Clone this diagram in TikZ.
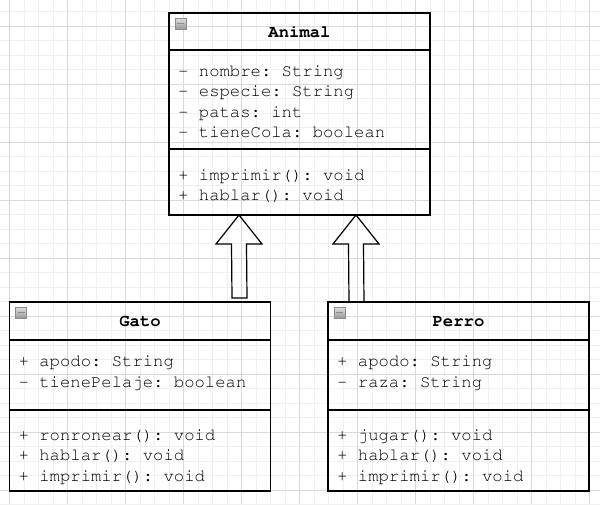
\documentclass[tikz,border=0pt]{standalone}
\usetikzlibrary{positioning,calc}

\newcommand{\umlfont}{\fontencoding{T1}\fontfamily{pcr}\fontsize{17.25pt}{20.5pt}\selectfont\frenchspacing}
\newcommand{\inheritarrow}[2]{%
  \draw[inherit] ($(#1)+(-7.5,0)$) -- ($(#2)+(-7.5,29)$) -- ($(#2)+(-23,29)$)
    -- (#2) -- ($(#2)+(23,29)$) -- ($(#2)+(7.5,29)$) -- ($(#1)+(7.5,0)$) -- cycle;}

\begin{document}
\begin{tikzpicture}[
    x=1pt, y=-1pt,
    node distance=0pt and 57.5pt,
    classhead/.style={draw,line width=1.2pt,outer sep=0pt,inner sep=0pt,minimum width=261pt,minimum height=#1,text height=11pt,text depth=0pt,font=\umlfont\bfseries},
    compart/.style={draw,line width=1.2pt,outer sep=0pt,inner sep=0pt,minimum width=261pt,minimum height=#1},
    members/.style={inner sep=0pt,align=left,anchor=base west,font=\umlfont},
    minbox/.style={draw=black!45,line width=0.6pt,minimum size=11pt,inner sep=0pt,top color=black!12,bottom color=black!40,
      path picture={\draw[line width=1.6pt] ([xshift=2pt]path picture bounding box.west) -- ([xshift=-2pt]path picture bounding box.east);}},
    inherit/.style={draw,line width=1.2pt,line join=miter},
    gridminor/.style={draw=black!6,line width=0.8pt},
    gridmajor/.style={draw=black!15,line width=0.8pt}
    ]

    \useasboundingbox (0,0) rectangle (600,504);

    % background grid
    \foreach \g in {0,...,41} \draw[gridminor] ({-5+\g*14.5},0) -- ({-5+\g*14.5},504);
    \foreach \g in {0,...,35} \draw[gridminor] (0,{-3+\g*14.5}) -- (600,{-3+\g*14.5});
    \foreach \g in {0,...,10} \draw[gridmajor] ({9.5+\g*58},0) -- ({9.5+\g*58},504);
    \foreach \g in {0,...,8} \draw[gridmajor] (0,{26+\g*58}) -- (600,{26+\g*58});

    % Animal
    \node[classhead=37pt] (animalH) at (299.5,31.5) {Animal};
    \node[compart=99pt, below=of animalH] (animalA) {};
    \node[compart=66pt, below=of animalA] (animalM) {};
    \node[members] at ([shift={(9pt,-87.5pt)}]animalA.north west)
      {- nombre: String\\- especie: String\\- patas: int\\- tieneCola: boolean};
    \node[members] at ([shift={(9pt,-51.5pt)}]animalM.north west)
      {+ imprimir(): void\\+ hablar(): void};
    \node[minbox] at ([shift={(11.5pt,-10.5pt)}]animalH.north west) {};

    % Gato
    \node[classhead=38pt] (gatoH) at (140,321) {Gato};
    \node[compart=70pt, below=of gatoH] (gatoA) {};
    \node[compart=81pt, below=of gatoA] (gatoM) {};
    \node[members] at ([shift={(9pt,-47pt)}]gatoA.north west)
      {+ apodo: String\\- tienePelaje: boolean};
    \node[members] at ([shift={(9pt,-71pt)}]gatoM.north west)
      {+ ronronear(): void\\+ hablar(): void\\+ imprimir(): void};
    \node[minbox] at ([shift={(11.5pt,-10.5pt)}]gatoH.north west) {};

    % Perro
    \node[classhead=38pt, right=of gatoH] (perroH) {Perro};
    \node[compart=70pt, below=of perroH] (perroA) {};
    \node[compart=81pt, below=of perroA] (perroM) {};
    \node[members] at ([shift={(9pt,-47pt)}]perroA.north west)
      {+ apodo: String\\- raza: String};
    \node[members] at ([shift={(9pt,-71pt)}]perroM.north west)
      {+ jugar(): void\\+ hablar(): void\\+ imprimir(): void};
    \node[minbox] at ([shift={(11.5pt,-10.5pt)}]perroH.north west) {};

    % inheritance
    \coordinate (gatoFoot) at ([shift={(99.5pt,4pt)}]gatoH.north);
    \coordinate (gatoTip) at ([xshift=-60.5pt]animalM.south);
    \coordinate (perroFoot) at ([xshift=-102pt]perroH.north);
    \coordinate (perroTip) at ([xshift=56.5pt]animalM.south);
    \inheritarrow{gatoFoot}{gatoTip}
    \inheritarrow{perroFoot}{perroTip}

  \end{tikzpicture}
\end{document}
